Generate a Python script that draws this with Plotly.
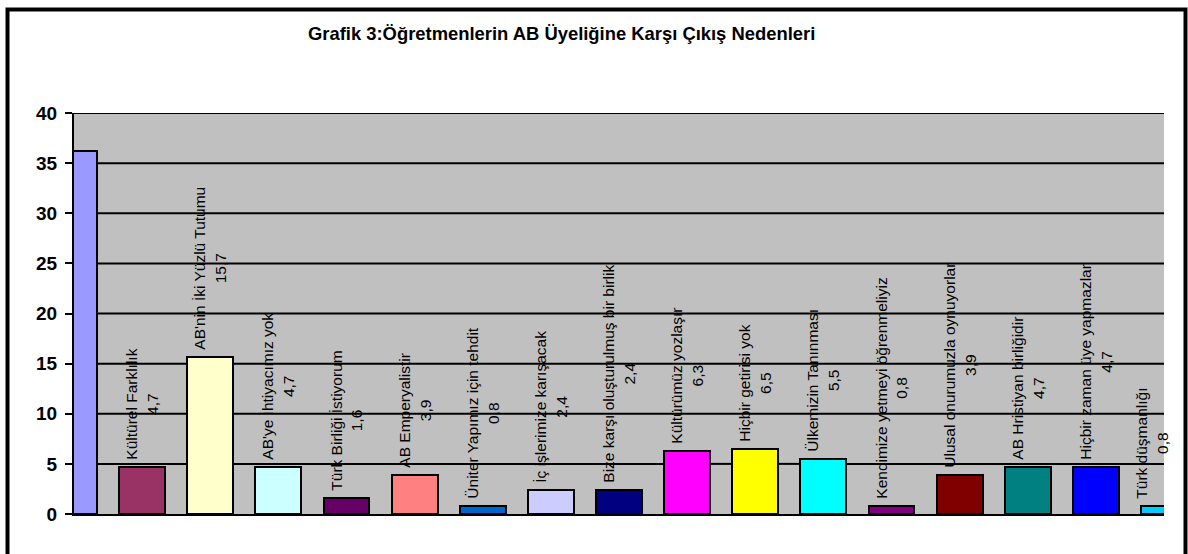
import plotly.graph_objects as go

labels = ["", "Kültürel Farklılık", "AB'nin İki Yüzlü Tutumu", "AB'ye İhtiyacımız yok",
          "Türk Birliği İstiyorum", "AB Emperyalistir", "Üniter Yapımız için tehdit",
          "İç işlerimize karışacak", "Bize karşı oluşturulmuş bir birlik", "Kültürümüz yozlaşır",
          "Hiçbir getirisi yok", "Ülkemizin Tanınması", "Kendimize yetmeyi öğrenmeliyiz",
          "Ulusal onurumuzla oynuyorlar", "AB Hristiyan birliğidir", "Hiçbir zaman üye yapmazlar",
          "Türk düşmanlığı"]
values = [36.2, 4.7, 15.7, 4.7, 1.6, 3.9, 0.8, 2.4, 2.4, 6.3, 6.5, 5.5, 0.8, 3.9, 4.7, 4.7, 0.8]
colors = ["#9999FF", "#993366", "#FFFFCC", "#CCFFFF", "#660066", "#FF8080", "#0066CC",
          "#CCCCFF", "#000080", "#FF00FF", "#FFFF00", "#00FFFF", "#800080", "#800000",
          "#008080", "#0000FF", "#00CCFF"]
y_ticks = [0, 5, 10, 15, 20, 25, 30, 35, 40]
title_text = "Grafik 3:Öğretmenlerin AB Üyeliğine Karşı Çıkış Nedenleri"

FONT = "Liberation Sans, Arial, sans-serif"
bar_w = 0.675
positions = list(range(len(values)))
x_lo, x_hi = 0, len(values) - 1

texts = []
for lab, v in zip(labels, values):
    if lab:
        texts.append("\u00a0" + lab + "<br>\u00a0" + f"{v}".replace(".", ","))
    else:
        texts.append("")

# labels kept inside the plot area (the edge label is nudged left, as in the original)
label_offsets = [-bar_w / 2] * len(values)
label_offsets[-1] = -bar_w / 2 - 0.17

fig = go.Figure()
# bars (clipped to the plot area)
fig.add_trace(go.Bar(
    x=positions, y=values, width=bar_w,
    marker=dict(color=colors, line=dict(color="black", width=2)),
    cliponaxis=True, hoverinfo="skip", showlegend=False,
))
# data labels (invisible carrier bars, labels not clipped)
fig.add_trace(go.Bar(
    x=positions, y=values, width=bar_w, offset=label_offsets,
    marker=dict(color="rgba(0,0,0,0)", line=dict(width=0)),
    text=texts, textposition="outside", textangle=-90, constraintext="none",
    textfont=dict(family=FONT, size=15.5, color="black"),
    cliponaxis=False, hoverinfo="skip", showlegend=False,
))

# gridlines drawn over the labels but interrupted by bars (as in the original)
gx, gy = [], []
for g in y_ticks[1:]:
    start = x_lo
    for i, v in zip(positions, values):
        if v > g:
            left, right = i - bar_w / 2, i + bar_w / 2
            if left > start:
                gx += [start, left, None]
                gy += [g, g, None]
            start = max(start, right)
    if start < x_hi:
        gx += [start, x_hi, None]
        gy += [g, g, None]
fig.add_trace(go.Scatter(x=gx, y=gy, mode="lines", line=dict(color="black", width=2),
                         hoverinfo="skip", showlegend=False))

fig.update_layout(
    width=1188, height=554,
    margin=dict(l=74, r=24, t=113, b=40),
    paper_bgcolor="white", plot_bgcolor="#C0C0C0",
    font=dict(family=FONT, color="black"),
    barmode="overlay", bargap=0,
)
fig.update_xaxes(range=[x_lo, x_hi], showticklabels=False, showgrid=False, zeroline=False,
                 showline=True, linecolor="black", linewidth=2, ticks="")
fig.update_yaxes(range=[0, 40], tickvals=y_ticks, showgrid=False, zeroline=False,
                 showline=True, linecolor="black", linewidth=2,
                 ticks="outside", ticklen=7, tickwidth=2, tickcolor="black",
                 tickfont=dict(family=FONT, size=19, color="black", weight="bold"),
                 ticklabelstandoff=4)

fig.add_annotation(text=title_text, xref="paper", yref="paper",
                   x=(561.5 - 74) / 1090, y=(514 - 33) / 401, xanchor="center", yanchor="middle",
                   showarrow=False, font=dict(family=FONT, size=18.4, color="black", weight="bold"))

# outer chart frame
fig.add_shape(type="rect", xref="paper", yref="paper",
              x0=(7.5 - 74) / 1090, x1=(1185.5 - 74) / 1090,
              y0=(514 - 600) / 401, y1=(514 - 9.5) / 401,
              line=dict(color="black", width=4), fillcolor="rgba(0,0,0,0)", layer="above")

fig.write_html("out.html", config={"displayModeBar": False},
               post_script="document.body.style.margin='0';document.body.style.overflow='hidden';")
